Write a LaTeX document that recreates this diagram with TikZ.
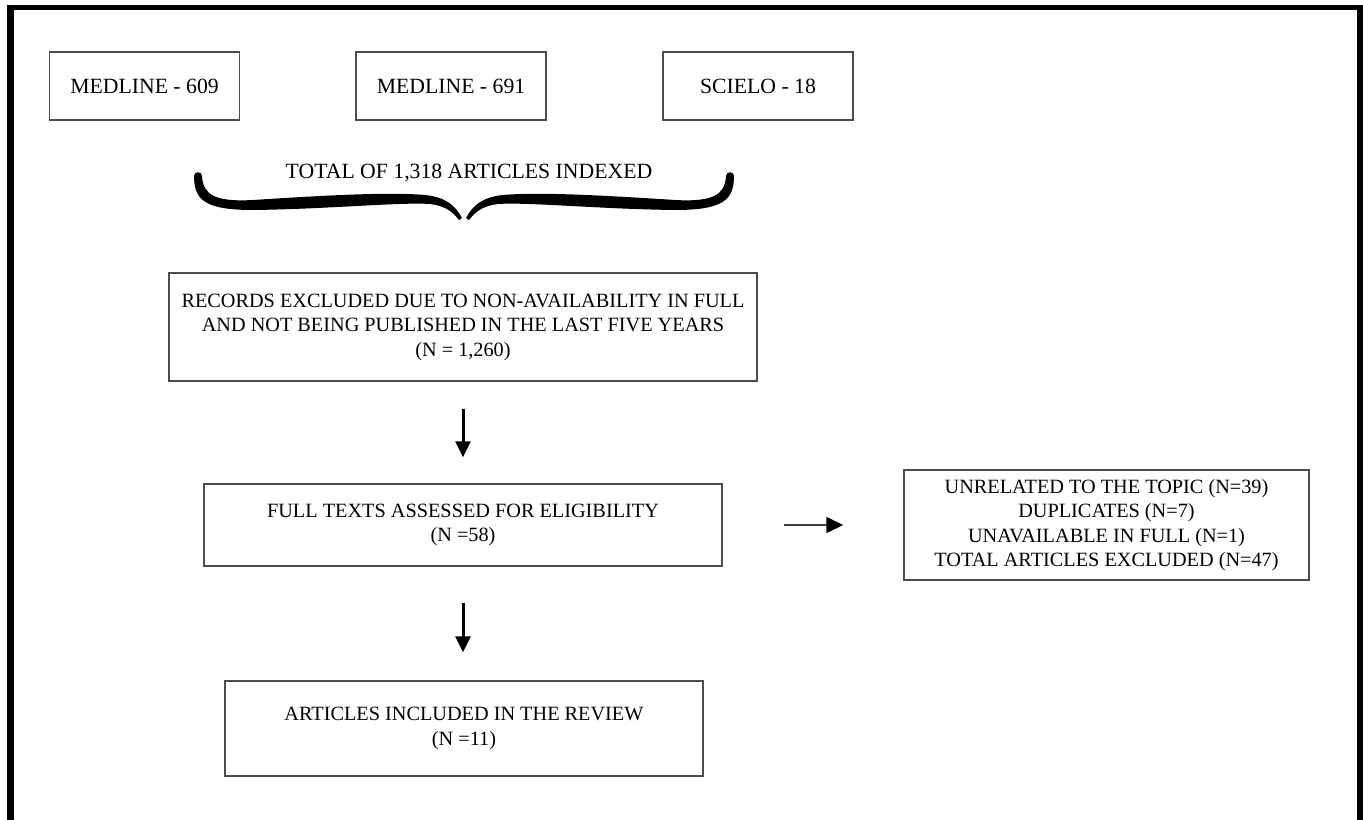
\documentclass[tikz,border=0pt]{standalone}
\usepackage{fontspec}
\setmainfont{Liberation Serif}
\usetikzlibrary{arrows.meta}
\tikzset{
  topbox/.style={draw=black!70, line width=1.1pt, minimum width={190*0.75pt}, minimum height={68*0.75pt}, inner sep=0pt, font=\fontsize{16.3}{19}\selectfont},
  flowbox/.style={draw=black!70, line width=1.1pt, inner sep=0pt, align=center, font=\fontsize{15.2}{18.4}\selectfont},
  downarrow/.style={line width=2.25pt, -{Triangle[length=12pt,width=11.25pt]}},
  sidearrow/.style={draw=black!75, line width=1.1pt, -{Triangle[length=12.75pt,width=12pt,color=black,fill=black]}},
  bracepart/.style={fill=black}
}
\begin{document}
\begin{tikzpicture}[x=0.75pt,y=-0.75pt]
\useasboundingbox (0,0) rectangle (1363,820);
% outer frame (open at the bottom)
\fill (7,5) rectangle (14,820);
\fill (7,5) rectangle (1363,10);
\fill (1357,5) rectangle (1363,820);

% source boxes
\node[topbox] (medA) at (144.5,86) {MEDLINE - 609};
\node[topbox] (medB) at (451,86) {MEDLINE - 691};
\node[topbox] (sci) at (758,86) {SCIELO - 18};

% total label and brace
\node[font=\fontsize{16.3}{19}\selectfont, inner sep=0pt] (total) at (469,173) {TOTAL OF 1,318 ARTICLES INDEXED};
\def\halfbrace{(194,176) .. controls (194,200) and (205,210) .. (253,210)
  .. controls (330,209) and (400,202) .. (430,204)
  .. controls (445,206) and (452,211) .. (459,220)
  -- (462,218)
  .. controls (455,205) and (445,197) .. (425,195)
  .. controls (390,192) and (330,195) .. (253,200)
  .. controls (215,202) and (203,195) .. (202,176)
  .. controls (202,171) and (194,171) .. (194,176) -- cycle}
\fill[bracepart] \halfbrace;
\begin{scope}[shift={(928,0)}, xscale=-1]
\fill[bracepart] \halfbrace;
\end{scope}

% flow boxes
\node[flowbox, minimum width={588*0.75pt}, minimum height={108*0.75pt}] (rec) at (463,327)
  {RECORDS EXCLUDED DUE TO NON-AVAILABILITY IN FULL\\AND NOT BEING PUBLISHED IN THE LAST FIVE YEARS\\(N = 1,260)};
\node[flowbox, minimum width={518*0.75pt}, minimum height={82*0.75pt}] (full) at (463,525)
  {FULL TEXTS ASSESSED FOR ELIGIBILITY\\(N =58)};
\node[flowbox, minimum width={405*0.75pt}, minimum height={110*0.75pt}] (excl) at (1106.5,525)
  {UNRELATED TO THE TOPIC (N=39)\\DUPLICATES (N=7)\\UNAVAILABLE IN FULL (N=1)\\TOTAL ARTICLES EXCLUDED (N=47)};
\node[flowbox, minimum width={478*0.75pt}, minimum height={95*0.75pt}] (incl) at (464,728.5)
  {ARTICLES INCLUDED IN THE REVIEW\\(N =11)};

% connectors
\draw[downarrow, shorten <=20.25pt, shorten >=19.5pt] (rec.south) -- (full.north);
\draw[downarrow, shorten <=27pt, shorten >=21pt] (full.south) -- (full.south |- incl.north);
\draw[sidearrow, shorten <=45.75pt, shorten >=45pt] (full.east) -- (excl.west);
\end{tikzpicture}
\end{document}
